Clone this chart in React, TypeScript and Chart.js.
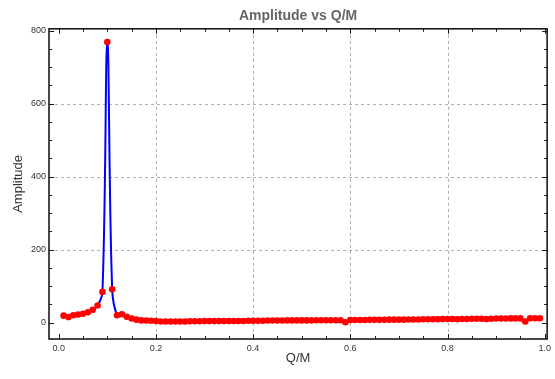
import React, { useEffect, useRef } from "react";
import { Chart, registerables } from "chart.js";

Chart.register(...registerables);

const qm: number[] = [
  0.01, 0.02, 0.03, 0.04, 0.05, 0.06, 0.07, 0.08, 0.09, 0.1,
  0.11, 0.12, 0.13, 0.14, 0.15, 0.16, 0.17, 0.18, 0.19, 0.2,
  0.21, 0.22, 0.23, 0.24, 0.25, 0.26, 0.27, 0.28, 0.29, 0.3,
  0.31, 0.32, 0.33, 0.34, 0.35, 0.36, 0.37, 0.38, 0.39, 0.4,
  0.41, 0.42, 0.43, 0.44, 0.45, 0.46, 0.47, 0.48, 0.49, 0.5,
  0.51, 0.52, 0.53, 0.54, 0.55, 0.56, 0.57, 0.58, 0.59, 0.6,
  0.61, 0.62, 0.63, 0.64, 0.65, 0.66, 0.67, 0.68, 0.69, 0.7,
  0.71, 0.72, 0.73, 0.74, 0.75, 0.76, 0.77, 0.78, 0.79, 0.8,
  0.81, 0.82, 0.83, 0.84, 0.85, 0.86, 0.87, 0.88, 0.89, 0.9,
  0.91, 0.92, 0.93, 0.94, 0.95, 0.96, 0.97, 0.98, 0.99,
];

const amplitude: number[] = [
  19, 15, 20, 22, 24, 28, 35, 47, 84, 769,
  91, 20, 23, 16, 11, 8, 6, 5.5, 5, 4.5,
  3, 3, 3, 3, 3, 3, 3.5, 3.5, 3.5, 4,
  4, 4, 4, 4, 4.5, 4.5, 4.5, 4.5, 5, 5,
  5, 5, 5.5, 5.5, 5.5, 5.5, 6, 6, 6, 6,
  6, 6, 6.5, 6.5, 6.5, 6.5, 6.5, 6.5, 1, 7,
  7, 7, 7, 7.5, 7.5, 7.5, 7.5, 8, 8, 8,
  8, 8.5, 8.5, 8.5, 9, 9, 9, 9, 9.5, 10,
  10, 9, 10, 10, 10.5, 10.5, 10.5, 10, 10.5, 11,
  11, 11, 11.5, 11.5, 11.5, 3, 12, 12, 12,
];

const xTicks: number[] = [0, 0.2, 0.4, 0.6, 0.8, 1.0];
const yTicks: number[] = [0, 200, 400, 600, 800];
const xMinorTicks: number[] = [0.05, 0.1, 0.15, 0.25, 0.3, 0.35, 0.45, 0.5, 0.55, 0.65, 0.7, 0.75, 0.85, 0.9, 0.95];
const yMinorTicks: number[] = [50, 100, 150, 250, 300, 350, 450, 500, 550, 650, 700, 750];
const xGrid: number[] = [0.2, 0.4, 0.6, 0.8];
const yGrid: number[] = [200, 400, 600];

const framePlugin = {
  id: "mmaFrame",
  beforeDatasetsDraw(chart: any) {
    const { ctx, chartArea: a, scales } = chart;
    const xs = scales.x;
    const ys = scales.y;
    ctx.save();
    ctx.strokeStyle = "#b0b0b0";
    ctx.lineWidth = 1;
    ctx.setLineDash([3, 3]);
    xGrid.forEach((v) => {
      const px = Math.round(xs.getPixelForValue(v)) + 0.5;
      ctx.beginPath();
      ctx.moveTo(px, a.top);
      ctx.lineTo(px, a.bottom);
      ctx.stroke();
    });
    yGrid.forEach((v) => {
      const py = Math.round(ys.getPixelForValue(v)) + 0.5;
      ctx.beginPath();
      ctx.moveTo(a.left, py);
      ctx.lineTo(a.right, py);
      ctx.stroke();
    });
    ctx.restore();
  },
  afterDatasetsDraw(chart: any) {
    const { ctx, chartArea: a, scales } = chart;
    const xs = scales.x;
    const ys = scales.y;
    ctx.save();
    ctx.strokeStyle = "#1a1a1a";
    ctx.lineWidth = 1;
    const tick = (vals: number[], len: number) => {
      vals.forEach((v) => {
        const px = Math.round(xs.getPixelForValue(v)) + 0.5;
        ctx.beginPath();
        ctx.moveTo(px, a.bottom);
        ctx.lineTo(px, a.bottom - len);
        ctx.moveTo(px, a.top);
        ctx.lineTo(px, a.top + len);
        ctx.stroke();
      });
    };
    const ytick = (vals: number[], len: number) => {
      vals.forEach((v) => {
        const py = Math.round(ys.getPixelForValue(v)) + 0.5;
        ctx.beginPath();
        ctx.moveTo(a.left, py);
        ctx.lineTo(a.left + len, py);
        ctx.moveTo(a.right, py);
        ctx.lineTo(a.right - len, py);
        ctx.stroke();
      });
    };
    tick(xTicks, 5);
    tick(xMinorTicks, 3);
    ytick(yTicks, 5);
    ytick(yMinorTicks, 3);
    ctx.lineWidth = 1.6;
    ctx.strokeRect(a.left, a.top, a.right - a.left, a.bottom - a.top);
    ctx.restore();
  },
};

export default function App() {
  const ref = useRef<HTMLCanvasElement | null>(null);
  useEffect(() => {
    if (!ref.current) return;
    const pts = qm.map((x, i) => ({ x, y: amplitude[i] }));
    const chart = new Chart(ref.current, {
      type: "line",
      data: {
        datasets: [
          {
            label: "points",
            data: pts,
            showLine: false,
            pointRadius: 3.3,
            pointBackgroundColor: "#ff0000",
            pointBorderColor: "#ff0000",
            borderWidth: 0,
            pointBorderWidth: 0,
            order: 0,
          },
          {
            label: "interp",
            data: pts,
            borderColor: "#0000ff",
            borderWidth: 2,
            pointRadius: 0,
            tension: 0.4,
            fill: false,
            order: 1,
          },
        ],
      },
      options: {
        animation: false,
        responsive: false,
        devicePixelRatio: 1,
        parsing: false,
        layout: { padding: { left: 0, right: 2, top: 0, bottom: 0 } },
        plugins: {
          legend: { display: false },
          tooltip: { enabled: false },
          title: {
            display: true,
            text: "Amplitude vs Q/M",
            fullSize: false,
            color: "#666666",
            font: { family: "'Liberation Sans', Arial, sans-serif", size: 14, weight: "bold" },
            padding: { top: 8, bottom: 4 },
          },
        },
        scales: {
          x: {
            type: "linear",
            min: -0.02,
            max: 1.005,
            grid: { display: false, drawTicks: false },
            border: { display: false },
            afterBuildTicks: (s: any) => {
              s.ticks = xTicks.map((v) => ({ value: v }));
            },
            afterFit: (s: any) => {
              s.height = 40;
            },
            ticks: {
              padding: 4,
              maxRotation: 0,
              autoSkip: false,
              color: "#333333",
              font: { family: "'Liberation Sans', Arial, sans-serif", size: 9 },
              callback: (v: any) => Number(v).toFixed(1),
            },
            title: {
              display: true,
              text: "Q/M",
              color: "#333333",
              font: { family: "'Liberation Sans', Arial, sans-serif", size: 13 },
              padding: { top: 0, bottom: 13 },
            },
          },
          y: {
            type: "linear",
            min: -45,
            max: 805,
            grid: { display: false, drawTicks: false },
            border: { display: false },
            afterBuildTicks: (s: any) => {
              s.ticks = yTicks.map((v) => ({ value: v }));
            },
            afterFit: (s: any) => {
              s.width = 49;
            },
            ticks: {
              padding: 3,
              autoSkip: false,
              color: "#333333",
              font: { family: "'Liberation Sans', Arial, sans-serif", size: 9 },
              callback: (v: any) => String(v),
            },
            title: {
              display: true,
              text: "Amplitude",
              color: "#333333",
              font: { family: "'Liberation Sans', Arial, sans-serif", size: 13 },
              padding: { top: 11, bottom: 0 },
            },
          },
        },
      },
      plugins: [framePlugin],
    });
    return () => chart.destroy();
  }, []);
  return (
    <div style={{ position: "fixed", left: 0, top: 0, width: 555, height: 379, background: "#fff" }}>
      <canvas ref={ref} width={555} height={379} style={{ display: "block" }} />
    </div>
  );
}
